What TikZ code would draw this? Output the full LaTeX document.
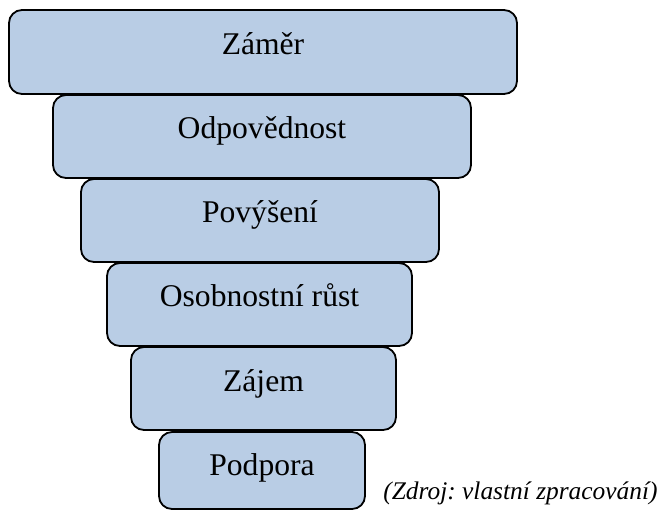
\documentclass[tikz,border=0pt]{standalone}
\usepackage{fontspec}
\setmainfont{Liberation Serif}
\frenchspacing
\definecolor{tierfill}{HTML}{B9CDE5}
\begin{document}
\begin{tikzpicture}[x=0.5pt,y=-0.5pt,
  tier/.style={draw=black, fill=tierfill, line width=0.9pt, rounded corners=6.5pt,
    minimum height=41.5pt, inner sep=0pt, outer sep=0pt},
  tiertext/.style={anchor=base, inner sep=0pt, font=\rmfamily\fontsize{15.8}{18}\selectfont},
  source/.style={anchor=base west, inner sep=0pt, font=\rmfamily\itshape\fontsize{12.7}{15}\selectfont}]
  \useasboundingbox (0,0) rectangle (672,510);
  % stacked tiers, widest on top
  \node[tier, minimum width=254pt, minimum height=42pt] (b1) at (263,52) {};
  \node[tier, minimum width=209pt] (b2) at (262,136.5) {};
  \node[tier, minimum width=179pt] (b3) at (260,220.5) {};
  \node[tier, minimum width=152.5pt] (b4) at (259.5,304.5) {};
  \node[tier, minimum width=132.5pt] (b5) at (263.5,388.5) {};
  \node[tier, minimum width=103pt, minimum height=38.5pt] (b6) at (262,470.5) {};
  % tier labels, set in the upper part of each tier
  \node[tiertext] (t1) at ([yshift=-22pt]b1.north) {Záměr};
  \node[tiertext] (t2) at ([yshift=-21.5pt]b2.north) {Odpovědnost};
  \node[tiertext] (t3) at ([yshift=-21.5pt]b3.north) {Povýšení};
  \node[tiertext] (t4) at ([yshift=-21.5pt]b4.north) {Osobnostní růst};
  \node[tiertext] (t5) at ([yshift=-22pt]b5.north) {Zájem};
  \node[tiertext] (t6) at ([yshift=-21.5pt]b6.north) {Podpora};
  % source note
  \node[source] (src) at (383,499) {(Zdroj: vlastní zpracování)};
\end{tikzpicture}
\end{document}
